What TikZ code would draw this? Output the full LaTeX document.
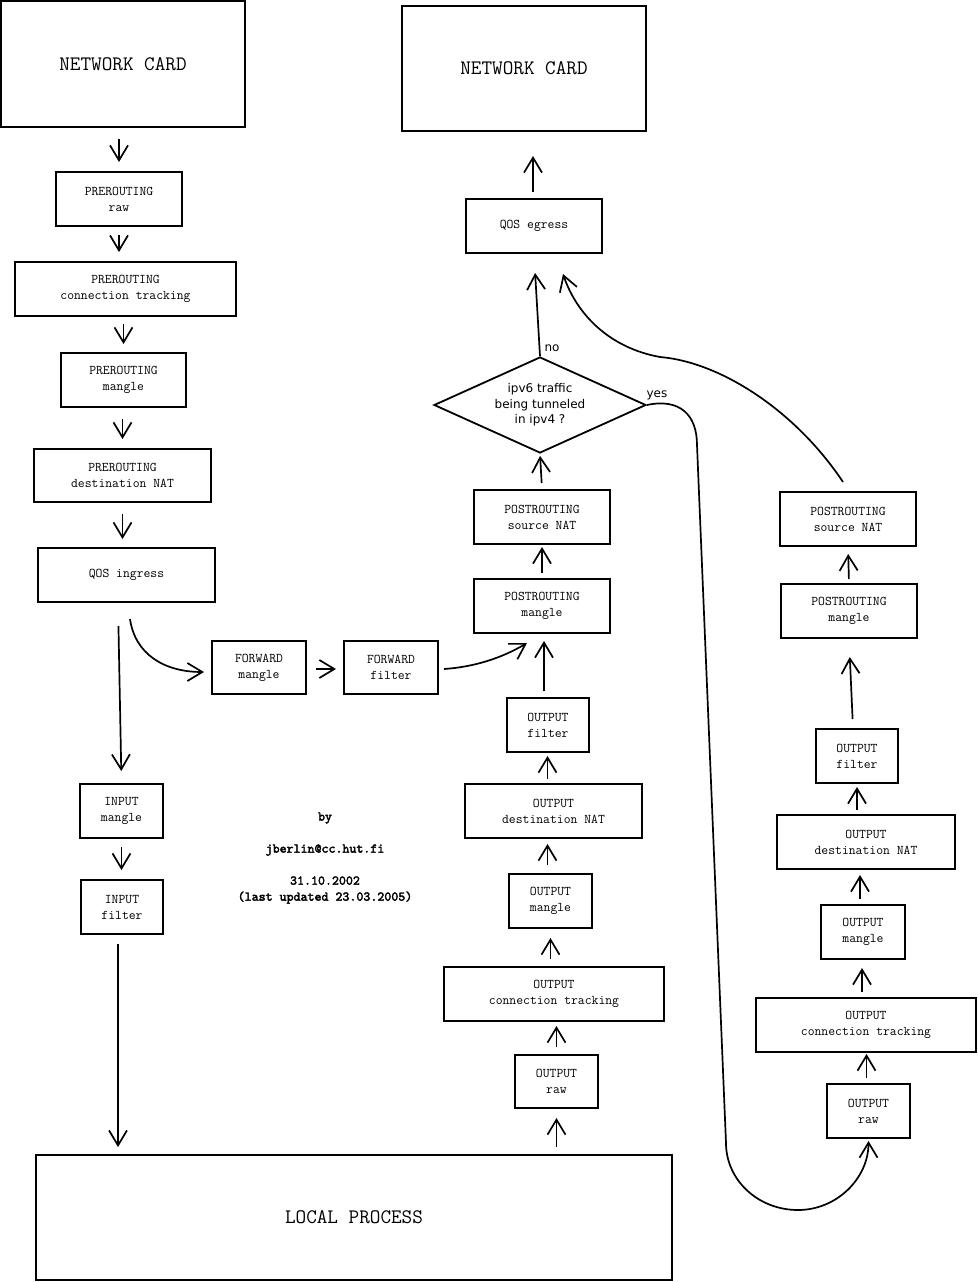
\documentclass[tikz,border=0pt]{standalone}
\usepackage{fontspec}
\newfontfamily\dvsans{DejaVu Sans}
\newfontfamily\credfont[FakeBold=2.5]{lmmono10-regular.otf}
\usetikzlibrary{arrows.meta,shapes.geometric}
\begin{document}
\begin{tikzpicture}[x=1pt,y=-1pt,
  box/.style 2 args={draw, line width=2pt, inner sep=0pt, minimum width=#1pt, minimum height=#2pt, align=center, font=\ttfamily\fontsize{13.3}{16}\selectfont},
  big/.style 2 args={box={#1}{#2}, font=\ttfamily\fontsize{20.6}{24}\selectfont},
  arr/.style={line width=1.7pt, -{Straight Barb[length=15pt,width=18pt]}},
  lbl/.style={font=\dvsans\fontsize{12}{15.5}\selectfont, inner sep=0pt},
  credit/.style={font=\credfont\fontsize{13.3}{16}\selectfont, inner sep=0pt, align=center}]
\useasboundingbox (0,0) rectangle (977,1282);
\fill[white] (0,0) rectangle (977,1282);
% left column
\node[big={244}{126}] (nc1) at (123,64) {NETWORK CARD};
\node[box={126}{54}] (prraw) at (119,199) {PREROUTING\\raw};
\node[box={221}{54}] (prct) at (125.5,289) {PREROUTING\\connection tracking};
\node[box={125}{54}] (prm) at (123.5,380) {PREROUTING\\mangle};
\node[box={177}{53}] (prdnat) at (122.5,475.5) {PREROUTING\\destination NAT};
\node[box={177}{54}] (qosin) at (126.5,575) {QOS ingress};
\node[box={94}{53}] (fwm) at (259,667.5) {FORWARD\\mangle};
\node[box={94}{53}] (fwf) at (391,667.5) {FORWARD\\filter};
\node[box={83}{54}] (inm) at (121.5,811) {INPUT\\mangle};
\node[box={82}{54}] (inf) at (122,907) {INPUT\\filter};
\node[big={636}{125}] (local) at (354,1217.5) {LOCAL PROCESS};
% middle column
\node[big={244}{125}] (nc2) at (524,68.5) {NETWORK CARD};
\node[box={136}{54}] (qoseg) at (534,226) {QOS egress};
\node[diamond, draw, line width=1.8pt, inner sep=0pt, minimum width=212pt, minimum height=96pt, aspect=2.2, align=center, font=\dvsans\fontsize{12}{15.5}\selectfont] (dec) at (540,405) {ipv6 traffic\\being tunneled\\in ipv4 ?};
\node[box={136}{54}] (psnat) at (542,517) {POSTROUTING\\source NAT};
\node[box={136}{54}] (pm) at (542,606) {POSTROUTING\\mangle};
\node[box={82}{54}] (of) at (548,725) {OUTPUT\\filter};
\node[box={177}{54}] (odnat) at (553.5,811) {OUTPUT\\destination NAT};
\node[box={83}{54}] (om) at (550.5,901) {OUTPUT\\mangle};
\node[box={220}{54}] (oct) at (554,994) {OUTPUT\\connection tracking};
\node[box={83}{53}] (oraw) at (556.5,1081.5) {OUTPUT\\raw};
% right column
\node[box={136}{54}] (rpsnat) at (848,519) {POSTROUTING\\source NAT};
\node[box={136}{54}] (rpm) at (849,611) {POSTROUTING\\mangle};
\node[box={82}{54}] (rof) at (857,756) {OUTPUT\\filter};
\node[box={178}{54}] (rodnat) at (866,842) {OUTPUT\\destination NAT};
\node[box={84}{54}] (rom) at (863,932) {OUTPUT\\mangle};
\node[box={220}{54}] (roct) at (866,1025) {OUTPUT\\connection tracking};
\node[box={83}{54}] (roraw) at (868.5,1111) {OUTPUT\\raw};
% credits and labels
\node[credit] (by) at (325,818) {by};
\node[credit] (mail) at (325,850) {jberlin@cc.hut.fi};
\node[credit] (date) at (325,890) {31.10.2002\\(last updated 23.03.2005)};
\node[lbl] (no) at (552,348) {no};
\node[lbl] (yes) at (657,395) {yes};
% left arrows
\draw[arr, shorten <=11pt, shorten >=9pt] (prraw.north |- nc1.south) -- (prraw.north);
\draw[arr, shorten <=8pt, shorten >=9pt] (prraw.south) -- (prraw.south |- prct.north);
\draw[arr, shorten <=7pt, shorten >=8pt] (prm.north |- prct.south) -- (prm.north);
\draw[arr, shorten <=11pt, shorten >=9pt] (prdnat.north |- prm.south) -- (prdnat.north);
\draw[arr, shorten <=11pt, shorten >=8pt] (prdnat.south) -- (prdnat.south |- qosin.north);
\draw[arr, shorten <=23pt, shorten >=12pt] ([xshift=-8.5pt]qosin.south) -- (inm.north);
\draw[arr, shorten <=8pt, shorten >=9pt] (inm.south) -- (inm.south |- inf.north);
\draw[arr, shorten <=9pt, shorten >=7pt] ([xshift=-4pt]inf.south) -- ([xshift=-4pt]inf.south |- local.north);
\draw[arr, shorten <=9pt, shorten >=7pt] ([yshift=-1.5pt]fwm.east) -- ([yshift=-1.5pt]fwf.west);
\draw[arr] ([xshift=3.5pt,yshift=-16pt]qosin.south) .. controls +(5,35) and +(-40,0) .. ([xshift=-7pt,yshift=-4.5pt]fwm.west);
\draw[arr] ([xshift=5pt,yshift=-1.5pt]fwf.east) .. controls +(30,-2) and +(-25,15) .. ([xshift=-15pt,yshift=-9pt]pm.south);
% middle arrows
\draw[arr, shorten <=7pt, shorten >=9pt] (oraw.south |- local.north) -- (oraw.south);
\draw[arr, shorten <=7pt, shorten >=4pt] (oraw.north) -- (oraw.north |- oct.south);
\draw[arr, shorten <=7pt, shorten >=9pt] (om.south |- oct.north) -- (om.south);
\draw[arr, shorten <=8pt, shorten >=5pt] ([xshift=-3pt]om.north) -- ([xshift=-3pt]om.north |- odnat.south);
\draw[arr, shorten <=4pt, shorten >=3pt] ([xshift=-6pt]odnat.north) -- ([xshift=-6pt]odnat.north |- of.south);
\draw[arr, shorten <=6pt, shorten >=7pt] ([xshift=-4pt]of.north) -- ([xshift=-4pt]of.north |- pm.south);
\draw[arr, shorten <=5pt, shorten >=2pt] (pm.north) -- (psnat.south);
\draw[arr, shorten <=6pt, shorten >=2pt] (psnat.north) -- (dec.south);
\draw[arr, shorten >=19pt] (dec.north) -- (qoseg.south);
\draw[arr, shorten <=6pt, shorten >=24pt] ([xshift=-1pt]qoseg.north) -- ([xshift=-1pt]qoseg.north |- nc2.south);
% right arrows
\draw[arr, shorten <=5pt, shorten >=1pt] ([xshift=-2pt]roraw.north) -- ([xshift=-2pt]roraw.north |- roct.south);
\draw[arr, shorten <=5pt, shorten >=8pt] ([xshift=-4pt]roct.north) -- ([xshift=-4pt]roct.north |- rom.south);
\draw[arr, shorten <=5pt, shorten >=5pt] ([xshift=-3pt]rom.north) -- ([xshift=-3pt]rom.north |- rodnat.south);
\draw[arr, shorten <=4pt, shorten >=3pt] (rof.south |- rodnat.north) -- (rof.south);
\draw[arr, shorten <=9pt, shorten >=18pt] ([xshift=-4pt]rof.north) -- (rpm.south);
\draw[arr, shorten <=4pt, shorten >=7pt] (rpm.north) -- (rpsnat.south);
% long curves
\coordinate (sbend) at (660,357);
\draw[arr] ([xshift=-5pt,yshift=9pt]rpsnat.north) .. controls (795,410) and (720,362) .. (sbend) .. controls (610,348) and (577,315) .. ([xshift=29pt,yshift=-20pt]qoseg.south);
\coordinate (ytop) at (697,445);
\coordinate (ybot) at (726,1143);
\coordinate (yloop) at (798,1210);
\draw[arr, shorten >=2pt] (dec.east) .. controls +(33,-7) and +(0,-30) .. (ytop) -- (ybot) .. controls +(0,37) and +(-40,0) .. (yloop) .. controls +(39,0) and +(0,39) .. (roraw.south);
\end{tikzpicture}
\end{document}
